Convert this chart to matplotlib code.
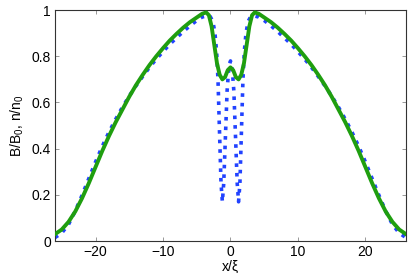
import matplotlib
matplotlib.use("Agg")
import matplotlib.pyplot as plt
import numpy as np

# -----------------------------
# Data (left half, mirrored for right half)
# -----------------------------

x_green_left = [-26, -25, -24, -23, -22, -21, -20, -19, -18, -17, -16, -15, -14, -13,
                -12, -11, -10, -9, -8, -7, -6, -5, -4.2, -3.6, -3.2, -2.8, -2.4,
                -2.0, -1.6, -1.2, -0.8, -0.4, 0]
n_green_left = [0.03, 0.05, 0.083, 0.128, 0.185, 0.25, 0.32, 0.39, 0.455, 0.515, 0.57, 0.625,
                0.675, 0.72, 0.762, 0.80, 0.835, 0.868, 0.897, 0.924, 0.948, 0.968, 0.984,
                0.99, 0.978, 0.93, 0.85, 0.77, 0.72, 0.70, 0.71, 0.74, 0.752]

x_blue_left = [-26, -25, -24, -23, -22, -21, -20, -19, -18, -17, -16, -15, -14, -13,
               -12, -11, -10, -9, -8, -7, -6, -5, -4.2, -3.5, -3.0, -2.6, -2.3, -2.05,
               -1.85, -1.6, -1.4, -1.2, -1.0, -0.75, -0.5, -0.25, 0]
b_blue_left = [0.015, 0.035, 0.072, 0.13, 0.198, 0.27, 0.342, 0.41, 0.472, 0.528, 0.58, 0.628,
               0.672, 0.713, 0.752, 0.788, 0.82, 0.852, 0.88, 0.907, 0.932, 0.955, 0.97,
               0.975, 0.972, 0.95, 0.9, 0.82, 0.7, 0.45, 0.25, 0.17, 0.25, 0.45, 0.65, 0.75, 0.78]

x_ticks = [-20, -10, 0, 10, 20]
y_ticks = [0, 0.2, 0.4, 0.6, 0.8, 1]
y_tick_labels = ["0", "0.2", "0.4", "0.6", "0.8", "1"]


def mirror(xs, ys):
    xs = np.array(xs, dtype=float)
    ys = np.array(ys, dtype=float)
    return np.concatenate([xs, -xs[-2::-1]]), np.concatenate([ys, ys[-2::-1]])


xg, ng = mirror(x_green_left, n_green_left)
xb, bb = mirror(x_blue_left, b_blue_left)

# -----------------------------
# Plot
# -----------------------------

plt.rcParams["font.family"] = ["Liberation Sans", "DejaVu Sans"]
plt.rcParams["mathtext.fontset"] = "custom"
plt.rcParams["mathtext.rm"] = "Liberation Sans"
plt.rcParams["mathtext.it"] = "Liberation Sans"

fig = plt.figure(figsize=(4.09, 2.73), dpi=100)
ax = fig.add_axes([0.1345, 0.117, 0.858, 0.846])

ax.plot(xb, bb, color="#2142ff", linestyle=":", linewidth=2.6, zorder=2)
ax.plot(xg, ng, color="#1f9e0f", linestyle="-", linewidth=2.8, zorder=3,
        solid_joinstyle="round")

ax.set_xlim(-26, 26)
ax.set_ylim(0, 1)
ax.set_xticks(x_ticks)
ax.set_yticks(y_ticks)
ax.set_yticklabels(y_tick_labels)
ax.tick_params(direction="in", length=3, width=0.6, colors="#888888",
               labelcolor="black", labelsize=10, top=True, right=True, pad=3)

for s in ax.spines.values():
    s.set_color("#333333")
    s.set_linewidth(0.8)

ax.set_xlabel("x/ξ", fontsize=10, labelpad=0)
ax.set_ylabel("B/B$_0$, n/n$_0$", fontsize=10, labelpad=4)

fig.savefig("out.png", dpi=100)
